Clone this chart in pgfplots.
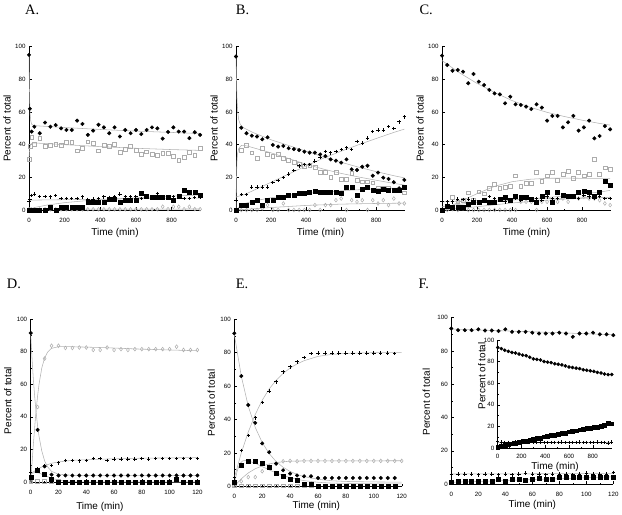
\documentclass[border=0pt]{standalone}
\usepackage{pgfplots}
\pgfplotsset{compat=1.18}
\usepackage{fontspec}
\setmainfont{Liberation Sans}
\newfontfamily\timesfont{Liberation Serif}
\pgfplotsset{
  base/.style={scale only axis, anchor=south west, clip=false,
    axis x line=bottom, axis y line=left, axis line style={-, line width=0.5pt},
    ymin=0, ymax=100, ytick={0,20,...,100}, minor y tick num=1, minor x tick num=1,
    tick align=inside, major tick length=2.5bp, minor tick length=1.4bp,
    tick style={black, line width=0.4pt},
    /pgf/number format/assume math mode=true,
    xticklabel={\pgfmathprintnumber[assume math mode=true]{\tick}},
    yticklabel={\pgfmathprintnumber[assume math mode=true]{\tick}},
    tick label style={font=\fontsize{6.2}{7}\selectfont},
    xticklabel style={yshift=-4.5bp},
    label style={font=\fontsize{8.2}{9}\selectfont},
    xlabel={Time (min)}, ylabel={Percent of total},
    every axis x label/.style={at={(axis description cs:0.5,0)}, anchor=center, yshift=-23bp},
    every axis y label/.style={at={(axis description cs:0,0.5)}, xshift=-22bp, rotate=90, anchor=center},
  },
  circ/.style={only marks, mark=*, mark size=1.8bp, black},
  fsq/.style={only marks, mark=square*, mark size=2bp, black},
  osq/.style={only marks, mark=square, mark size=1.9bp, gray!65, mark options={line width=0.5pt}},
  pls/.style={only marks, mark=+, mark size=1.7bp, black, mark options={line width=0.9pt}},
  odi/.style={only marks, mark=diamond, mark size=1.9bp, gray!65, mark options={line width=0.5pt}},
  fit/.style={no marks, gray!60, line width=0.55pt},
}
\begin{document}
\begin{tikzpicture}[x=1bp,y=1bp]
\path[use as bounding box] (0,0) rectangle (622,515);
\tikzset{lett/.style={anchor=base west, inner sep=0pt, font=\timesfont\fontsize{14.5}{16}\selectfont}}
\node[lett] at (25,500) {A.};
\node[lett] at (235.7,500) {B.};
\node[lett] at (419.3,500) {C.};
\node[lett] at (6.7,226) {D.};
\node[lett] at (235.7,226) {E.};
\node[lett] at (418.3,226.5) {F.};

% ---------------- A ----------------
\begin{axis}[base, at={(29bp,305bp)}, width=172bp, height=163.3bp, xmin=0, xmax=965, xtick={0,200,...,800}]
\addplot[fit] coordinates {(0,95)(2,78)(4,66)(7,58)(10,54.5)(15,52.5)(25,51.8)(50,51.5)(200,50.5)(400,49.3)(600,48.3)(800,47.5)(960,46.8)};
\addplot[fit] coordinates {(0,30)(2,35)(5,38.5)(10,40.3)(20,41)(40,41)(200,40)(400,38.8)(600,37.8)(800,37)(960,36.5)};
\addplot[fit] coordinates {(0,5.5)(10,6)(50,6.1)(400,6.6)(960,7.3)};
\addplot[fit] coordinates {(0,0)(30,1.5)(100,3)(200,4.5)(300,5.5)(400,6.3)(600,7.5)(800,8.5)(960,9.2)};
\addplot[fit] coordinates {(0,0.5)(960,0.6)};
\addplot[circ] coordinates {(0,95)(5,62)(15,48)(30,51)(60,47)(90,53.5)(120,51)(150,52)(180,50)(210,49)(240,49)(270,54.7)(300,52.7)(330,46)(360,48.6)(390,52.2)(420,50.6)(450,47)(480,50.6)(510,45)(540,49)(570,47)(600,49)(630,46.5)(660,49)(690,50.6)(720,50)(750,43.7)(780,47.8)(810,50.6)(840,48)(870,48)(900,44)(930,47.6)(960,46)};
\addplot[osq] coordinates {(0,31)(5,39)(15,44.5)(30,40.4)(60,43.7)(90,38.8)(120,39.4)(150,40.2)(180,39.4)(210,41.4)(240,41.4)(270,36.3)(300,37.8)(330,41.8)(360,40.8)(390,36.3)(420,39.4)(450,38.8)(480,40.4)(510,35.3)(540,37.1)(570,38.8)(600,36.7)(630,34.3)(660,35.7)(690,34.3)(720,33.7)(750,34.7)(780,34.7)(810,32.7)(840,30.6)(870,32.2)(900,35.3)(930,33.3)(960,37.6)};
\addplot[odi] coordinates {(0,0.4)(5,0.4)(15,0.4)(30,0.4)(60,0.4)(90,0.4)(120,0.4)(150,0.4)(180,0.4)(210,0.4)(240,0.4)(270,0.4)(300,0.4)(330,0.4)(360,0.4)(390,0.4)(420,0.4)(450,0.4)(480,0.4)(510,0.4)(540,0.4)(570,0.4)(600,0.4)(630,0.4)(660,0.4)(690,0.4)(720,0.4)(750,2)(780,0.5)(810,2)(840,2)(870,0.5)(900,2)(930,0.5)(960,0.5)};
\addplot[fsq] coordinates {(0,0)(5,0)(15,0)(30,0)(60,0)(90,0)(120,2)(150,0)(180,1.6)(210,1.6)(240,1.6)(270,1.6)(300,1.6)(330,4.5)(360,4.5)(390,5)(420,4.5)(450,6.5)(480,6.5)(510,4.5)(540,6)(570,6)(600,6)(630,10)(660,8.5)(690,8)(720,8)(750,8)(780,8)(810,6)(840,8.5)(870,12)(900,10.6)(930,11.2)(960,9.2)};
\addplot[pls] coordinates {(0,5)(5,6.5)(15,9)(30,9.8)(60,8.2)(90,8.2)(120,8)(150,8.8)(180,7)(210,7)(240,7)(270,7)(300,8)(330,6.5)(360,6.7)(390,7)(420,8)(450,7.8)(480,8)(510,9.8)(540,8)(570,8)(600,8)(630,7)(660,7.8)(690,7.8)(720,10.2)(750,8)(780,7)(810,8)(840,7.8)(870,7)(900,7)(930,7.8)(960,7.5)};
\end{axis}

% ---------------- B ----------------
\begin{axis}[base, at={(236bp,305bp)}, width=169.2bp, height=163.3bp, xmin=0, xmax=965, xtick={0,200,...,800}]
\addplot[fit] coordinates {(0,94)(2,84)(4,74)(6,67)(10,60)(15,55.5)(25,52.3)(40,50.5)(100,47.3)(200,43)(300,39.5)(400,36)(500,32.5)(600,29.2)(700,26.2)(800,23.5)(900,21)(960,19.7)};
\addplot[fit] coordinates {(0,0)(2,17)(5,29)(8,34)(15,37.5)(30,39.5)(60,39.3)(200,35)(300,31.5)(400,28)(500,25)(600,22.4)(700,20.2)(800,18.2)(900,16.3)(960,15.3)};
\addplot[fit] coordinates {(0,8)(50,9.5)(100,12)(200,17)(300,22)(400,27)(500,31.8)(600,36)(700,40)(800,43.8)(900,47.5)(960,49.5)};
\addplot[fit] coordinates {(0,0)(25,2.5)(50,4)(100,5.5)(200,7.5)(300,9)(400,10.2)(500,11)(600,11.8)(700,12.4)(800,13)(960,13.6)};
\addplot[fit] coordinates {(0,0)(200,1.5)(400,2.8)(600,3.6)(800,4)(960,4.2)};
\addplot[circ] coordinates {(0,94)(30,50.4)(60,47)(90,45.5)(120,45)(150,43.3)(180,44.5)(210,39.8)(240,38.8)(270,39.2)(300,37.8)(330,37.3)(360,36.7)(390,35.7)(420,35.1)(450,35.1)(480,34)(510,33)(540,31)(570,30.2)(600,29)(630,31)(660,24.9)(690,24.5)(720,26.5)(750,27.1)(780,21)(810,22.9)(840,19.8)(870,19)(900,17)(930,13.3)(960,18.4)};
\addplot[osq] coordinates {(0,0)(30,36.7)(60,39.4)(90,35)(120,31.5)(150,38)(180,34)(210,33)(240,34)(270,31.6)(300,30.6)(330,29)(360,28)(390,27)(420,27.3)(450,26)(480,23)(510,23)(540,20)(570,23)(600,19)(630,19)(660,22.4)(690,18.4)(720,17.3)(750,17.3)(780,16.7)(810,13.3)(840,13.3)(870,13.3)(900,12)(930,12)(960,10.6)};
\addplot[odi] coordinates {(0,0)(30,0)(60,0)(90,0)(120,0)(150,1)(180,3)(210,0)(240,0)(270,4)(300,0)(330,0)(360,0)(390,0)(420,0)(450,3)(480,0)(510,3)(540,3)(570,6)(600,7)(630,0)(660,6)(690,5)(720,6)(750,0)(780,6)(810,4)(840,6)(870,3)(900,7)(930,4)(960,4)};
\addplot[fsq] coordinates {(0,0)(30,3)(60,3)(90,5)(120,6)(150,3)(180,6)(210,6)(240,8)(270,8)(300,9)(330,9)(360,10)(390,10)(420,10.8)(450,11.8)(480,10.8)(510,11)(540,11)(570,11)(600,10)(630,13.7)(660,13.7)(690,9)(720,13)(750,14)(780,12)(810,11.8)(840,12.6)(870,12)(900,12)(930,12)(960,14)};
\addplot[pls] coordinates {(0,6)(30,9.5)(60,9.5)(90,14)(120,14)(150,14)(180,14)(210,17)(240,18)(270,20)(300,22)(330,24)(360,27)(390,28)(420,28)(450,30)(480,32)(510,36)(540,35)(570,36)(600,37)(630,38)(660,37)(690,42)(720,41)(750,44)(780,48)(810,49)(840,49)(870,51)(900,50)(930,54)(960,57)};
\end{axis}

% ---------------- C ----------------
\begin{axis}[base, at={(442bp,305bp)}, width=169bp, height=163.3bp, xmin=0, xmax=965, xtick={0,200,...,800}]
\addplot[fit] coordinates {(0,91.5)(100,84)(200,77.5)(300,72)(400,67)(500,63)(600,59.8)(700,57.2)(800,55)(900,53)(960,52)};
\addplot[fit] coordinates {(0,0)(60,3)(120,6)(200,10)(300,14.5)(400,17.3)(500,18.8)(600,19.4)(700,19.5)(800,19.4)(960,19.3)};
\addplot[fit] coordinates {(0,2)(100,3.5)(200,4.5)(300,5.3)(400,6)(500,6.8)(600,7.6)(700,8.6)(800,9.8)(900,11)(960,12)};
\addplot[fit] coordinates {(0,5)(300,6)(600,7)(960,7.8)};
\addplot[fit] coordinates {(0,0)(200,2)(400,4.3)(600,6)(800,7.2)(960,7.8)};
\addplot[circ] coordinates {(0,94.5)(30,88.8)(60,85.3)(90,85.7)(120,84.7)(150,77.6)(180,83.3)(210,78.6)(240,76.5)(270,73.5)(300,71.4)(330,70.8)(360,65.3)(390,69.4)(420,64.7)(450,64.3)(480,63.3)(510,61.8)(540,64.7)(570,62.7)(600,54.7)(630,57.6)(660,57.6)(690,50.6)(720,53.7)(750,57.6)(780,48.6)(810,50.6)(840,54.7)(870,43.9)(900,45.3)(930,51.4)(960,49.4)};
\addplot[osq] coordinates {(0,0)(30,2.5)(60,8)(90,5)(120,6)(150,10.6)(180,6)(210,11.2)(240,10)(270,13.3)(300,16)(330,13.3)(360,13.7)(390,14.3)(420,21)(450,14.3)(480,16.3)(510,16.3)(540,22.9)(570,17.8)(600,21)(630,22.9)(660,18.4)(690,21.8)(720,23.9)(750,19.4)(780,22.9)(810,21)(840,21.8)(870,31)(900,21.8)(930,25.9)(960,24.9)};
\addplot[odi] coordinates {(0,0)(30,0)(60,0.5)(90,0)(120,1)(150,0)(180,0)(210,0)(240,0)(270,0)(300,0)(330,0)(360,0)(390,0)(420,0)(450,5)(480,5)(510,5)(540,0)(570,5)(600,5)(630,5)(660,5)(690,7)(720,5)(750,8)(780,7)(810,8)(840,7)(870,7)(900,6)(930,4)(960,3)};
\addplot[fsq] coordinates {(0,0)(30,2.5)(60,1.6)(90,1.6)(120,1.6)(150,3.7)(180,5)(210,5)(240,5.7)(270,5)(300,5)(330,6.5)(360,7.8)(390,6)(420,8.2)(450,7.8)(480,7.8)(510,6.5)(540,5)(570,8.6)(600,11.2)(630,5)(660,11.2)(690,9.2)(720,8.2)(750,8.2)(780,11.2)(810,11.8)(840,10.6)(870,8.6)(900,10.6)(930,17.8)(960,15.3)};
\addplot[pls] coordinates {(0,5)(30,5)(60,5)(90,6.7)(120,6.5)(150,6.7)(180,6)(210,5)(240,6.5)(270,8.2)(300,7)(330,6)(360,5)(390,6)(420,7)(450,6)(480,7.5)(510,6)(540,7)(570,6)(600,8)(630,7)(660,7)(690,9)(720,7.5)(750,8)(780,7)(810,9)(840,8)(870,7)(900,8.5)(930,7)(960,7)};
\end{axis}

% ---------------- D ----------------
\begin{axis}[base, at={(30.7bp,33bp)}, width=166.7bp, height=163bp, xmin=0, xmax=120, xtick={0,20,...,120},
  every axis x label/.style={at={(axis description cs:0.415,0)}, anchor=center, yshift=-25bp},
  every axis y label/.style={at={(axis description cs:0,0.5)}, xshift=-23bp, rotate=90, anchor=center}]
\addplot[fit] coordinates {(0,91)(1,75)(2,62)(3,51)(4,42)(5,34)(6,28)(8,19)(10,13)(12,9.5)(15,6.5)(20,4.8)(30,4.1)(120,4)};
\addplot[fit] coordinates {(0,0)(1,12)(2,24)(3,35)(4,45)(5,53)(6,60)(8,70)(10,76)(12,79.5)(15,82)(20,83)(30,83)(50,82.5)(80,81.5)(120,80.5)};
\addplot[fit] coordinates {(0,5)(5,8)(10,10)(15,11.5)(20,12.3)(30,13.3)(50,14)(80,14.6)(120,15)};
\addplot[fit] coordinates {(0,5)(3,5.8)(6,5.5)(10,4)(15,2.3)(20,1.2)(25,0.6)(30,0.3)(40,0)(120,0)};
\addplot[osq] coordinates {(0,0.5)(5,0.5)(10,0.5)(15,0.5)(20,0.5)};
\addplot[odi] coordinates {(0,0.5)(5,46)(10,75.7)(15,83.6)(20,83.6)(25,82.2)(30,82.2)(35,82.5)(40,82.5)(45,81)(50,81)(55,82.5)(60,81)(65,81.5)(70,81)(75,81.5)(80,81.5)(85,81.5)(90,81.5)(95,81.5)(100,81.5)(105,83)(110,81)(115,81)(120,81)};
\addplot[fsq] coordinates {(0,2.9)(5,7)(10,5)(15,1.8)(20,0)(25,0)(30,0)(35,0)(40,0)(45,0)(50,0)(55,0)(60,0)(65,0)(70,0)(75,0)(80,0)(85,0)(90,0)(95,0)(100,0)(105,2)(110,0)(115,0)(120,0)};
\addplot[circ] coordinates {(0,91.4)(5,32)(10,9.6)(15,4.5)(20,4)(25,4)(30,4)(35,4)(40,4)(45,4)(50,4)(55,4)(60,4)(65,4)(70,4)(75,4)(80,4)(85,4)(90,4)(95,4)(100,4)(105,4)(110,4)(115,4)(120,4)};
\addplot[pls] coordinates {(0,5.9)(5,8)(10,10)(15,10)(20,11.7)(25,13.3)(30,13.3)(35,13)(40,13.3)(45,14.5)(50,14.3)(55,13.3)(60,14)(65,14)(70,14)(75,14)(80,14.5)(85,14)(90,14.5)(95,14.5)(100,14.5)(105,14.5)(110,14.5)(115,14.5)(120,14.5)};
\end{axis}

% ---------------- E ----------------
\begin{axis}[base, at={(234.3bp,28.7bp)}, width=167.4bp, height=167bp, xmin=0, xmax=120, xtick={0,20,...,120},
  every axis x label/.style={at={(axis description cs:0.49,0)}, anchor=center, yshift=-20bp},
  every axis y label/.style={at={(axis description cs:0,0.5)}, xshift=-23bp, rotate=90, anchor=center}]
\addplot[fit] coordinates {(0,91)(5,66)(10,48)(15,35.3)(20,26.2)(25,19.6)(30,14.8)(35,11.4)(40,8.9)(45,7.1)(50,5.8)(60,4.2)(70,3.3)(80,2.9)(100,2.6)(120,2.5)};
\addplot[fit] coordinates {(0,1)(2,9)(4,13.5)(6,15.2)(8,15.5)(10,15.2)(15,13.8)(20,11.8)(25,9.8)(30,8)(35,6.5)(40,5.2)(45,4.2)(50,3.4)(60,2.4)(70,1.9)(80,1.7)(100,1.5)(120,1.5)};
\addplot[fit] coordinates {(0,0)(5,4.5)(10,8)(15,10.5)(20,12.2)(25,13.4)(30,14.2)(35,14.7)(40,15)(50,15.2)(120,15.3)};
\addplot[fit] coordinates {(0,5)(5,20)(10,32.5)(15,43)(20,51.5)(25,58.3)(30,63.5)(35,67.6)(40,70.8)(45,73.3)(50,75.2)(60,77.8)(70,79)(80,79.6)(100,80)(120,80)};
\addplot[osq] coordinates {(0,0.3)(5,0.3)(10,0.3)(15,0.3)(20,0.3)(25,0.3)(30,0.3)(35,0.3)(40,0.3)(45,0.3)(50,0.3)(55,0.3)(60,0.3)};
\addplot[odi] coordinates {(0,0.5)(5,3)(10,5.5)(15,5.5)(20,9)(25,12)(30,13.5)(35,15)(40,15.2)(45,15)(50,15.2)(55,15.2)(60,15.2)(65,15.2)(70,15.2)(75,15.2)(80,15.2)(85,15.2)(90,15.2)(95,15.2)(100,15.2)(105,15.2)(110,15.2)(115,15.2)(120,15.2)};
\addplot[fsq] coordinates {(0,2.5)(5,12.5)(10,15)(15,15)(20,14)(25,11.6)(30,8)(35,6)(40,4)(45,3.5)(50,1.5)(55,1.5)(60,0)(65,0)(70,0)(75,0)(80,0)(85,0)(90,0)(95,0)(100,0)(105,0)(110,0)(115,0)};
\addplot[circ] coordinates {(0,91.6)(5,66)(10,48.7)(15,38)(20,25.7)(25,20.4)(30,13.6)(35,9.6)(40,7.6)(45,6.5)(50,6)(55,6)(60,5)(65,5)(70,5)(75,5)(80,5)(85,5)(90,5)(95,5)(100,5)(105,5)(110,5)(115,5)};
\addplot[pls] coordinates {(0,5)(5,21.5)(10,30.5)(15,41)(20,50)(25,57)(30,62.5)(35,68.5)(40,71.5)(45,74.5)(50,77)(55,79.5)(60,79.7)(65,79.8)(70,79.8)(75,79.8)(80,79.8)(85,79.8)(90,79.8)(95,79.8)(100,79.8)(105,79.8)(110,79.8)(115,79.5)};
\end{axis}

% ---------------- F ----------------
\begin{axis}[base, at={(451.3bp,31bp)}, width=162bp, height=166.3bp, xmin=0, xmax=120, xtick={0,20,...,120},
  every axis x label/.style={at={(axis description cs:0.5,0)}, anchor=center, yshift=-21bp},
  every axis y label/.style={at={(axis description cs:0,0.493)}, xshift=-25bp, rotate=90, anchor=center}]
\addplot[fit] coordinates {(0,93.2)(120,89.8)};
\addplot[fit] coordinates {(0,6)(120,6.3)};
\addplot[fit] coordinates {(0,1)(120,4.3)};
\addplot[circ] coordinates {(0,93.5)(5,92.5)(10,92.5)(15,92.5)(20,93)(25,92.3)(30,92.3)(35,92)(40,93)(45,91.5)(50,91.5)(55,91.5)(60,91)(65,90.5)(70,90.5)(75,90.5)(80,91)(85,90.5)(90,88.5)(95,90.5)(100,90.5)(105,91)(110,90)(115,90)(120,89.5)};
\addplot[pls] coordinates {(0,6)(5,6)(10,6)(15,6)(20,5.5)(25,6)(30,6)(35,5.5)(40,6)(45,5.5)(50,6)(55,6.5)(60,6)(65,6)(70,5.5)(75,6)(80,6)(85,6)(90,5.5)(95,6)(100,6.5)(105,6)(110,6)(115,6)(120,7)};
\addplot[fsq] coordinates {(0,1)(5,1.5)(10,1.6)(15,1.6)(20,1.6)(25,1.6)(30,1.7)(35,2.6)(40,1.8)(45,2.9)(50,3)(55,2.5)(60,2.8)(65,3.2)(70,3)(75,2.8)(80,3.9)(85,3.8)(90,3.9)(95,3.8)(100,3.9)(105,3.8)(110,3.8)(115,3.9)(120,3.9)};
\end{axis}

% ---------------- F inset ----------------
\begin{axis}[base, at={(497.7bp,67bp)}, width=114.6bp, height=108bp, xmin=0, xmax=965, xtick={0,200,...,800},
  xticklabel style={yshift=0bp, inner sep=1bp},
  every axis x label/.style={at={(axis description cs:0.5,0)}, anchor=center, inner sep=1bp, yshift=-19bp},
  every axis y label/.style={at={(axis description cs:0,0.667)}, xshift=-16bp, rotate=90, anchor=center}]
\addplot[fit] coordinates {(0,93)(200,86)(400,80)(600,74.5)(800,70.5)(960,67.5)};
\addplot[fit] coordinates {(0,0.5)(960,23.5)};
\addplot[fit] coordinates {(0,5.5)(960,5.5)};
\addplot[circ, mark size=1.6bp] coordinates {(0,93)(30,92)(60,90.5)(90,89.5)(120,88.5)(150,88)(180,87)(210,86)(240,85.5)(270,84)(300,82.5)(330,82)(360,81.5)(390,80)(420,79.5)(450,79)(480,78)(510,77.5)(540,77)(570,76)(600,75)(630,74.5)(660,74)(690,73.5)(720,72.5)(750,72)(780,71.5)(810,71)(840,70)(870,69.5)(900,68.5)(930,68)(960,68)};
\addplot[fsq, mark size=1.9bp] coordinates {(0,0.8)(30,1.5)(60,2.5)(90,3.5)(120,4)(150,4.5)(180,5)(210,6)(240,6.5)(270,7)(300,8)(330,9)(360,9)(390,10.5)(420,11)(450,11.5)(480,12)(510,12.5)(540,13.5)(570,14)(600,15)(630,15.5)(660,16)(690,17)(720,17.5)(750,18)(780,18.5)(810,19)(840,19.5)(870,20.5)(900,21)(930,23)(960,22.5)};
\addplot[pls] coordinates {(0,6)(30,5.5)(60,5.2)(90,5.2)(120,5.2)(150,5.5)(180,5.2)(210,5.2)(240,5.2)(270,5.2)(300,5.2)(330,5.2)(360,5.5)(390,5.2)(420,5.2)(450,5.2)(480,5.2)(510,5.2)(540,5.5)(570,5.2)(600,5.2)(630,5.2)(660,5.2)(690,5.5)(720,5.2)(750,5.2)(780,5.2)(810,5.2)(840,5.5)(870,5.2)(900,5.2)(930,4.5)(960,5.5)};
\end{axis}
\end{tikzpicture}
\end{document}
